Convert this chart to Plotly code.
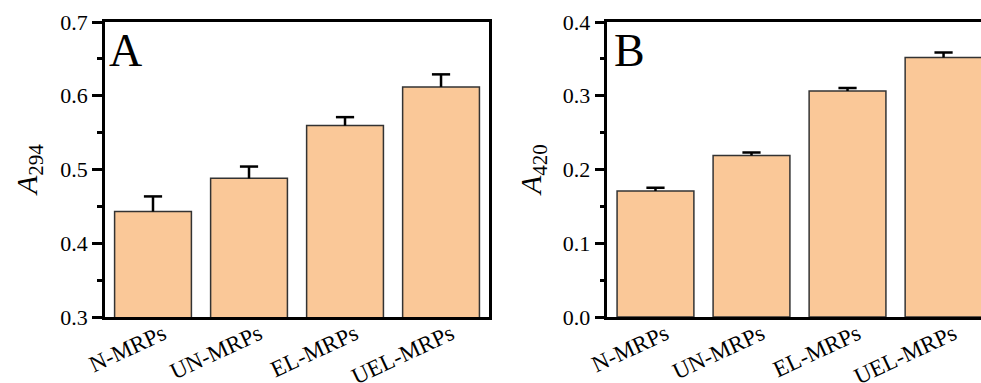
import plotly.graph_objects as go

categories = ["N-MRPs", "UN-MRPs", "EL-MRPs", "UEL-MRPs"]
a294_values = [0.443, 0.488, 0.5595, 0.612]
a294_errors = [0.0205, 0.016, 0.0115, 0.017]
a420_values = [0.1707, 0.219, 0.3065, 0.352]
a420_errors = [0.0046, 0.004, 0.004, 0.0068]
a294_ticks = [0.3, 0.4, 0.5, 0.6, 0.7]
a420_ticks = [0.0, 0.1, 0.2, 0.3, 0.4]

BAR = "#FAC898"
FONT = "Liberation Serif, Times New Roman, serif"

fig = go.Figure()
for vals, errs, xa, ya in [(a294_values, a294_errors, "x", "y"),
                           (a420_values, a420_errors, "x2", "y2")]:
    fig.add_trace(go.Bar(
        x=categories, y=vals, xaxis=xa, yaxis=ya, width=0.8,
        marker=dict(color=BAR, line=dict(color="#333333", width=1.5)),
        error_y=dict(type="data", array=errs, symmetric=False,
                     arrayminus=[0] * len(errs), color="black",
                     thickness=2.5, width=0),
        showlegend=False))
    fig.add_trace(go.Scatter(
        x=categories, y=[v + e for v, e in zip(vals, errs)],
        xaxis=xa, yaxis=ya, mode="markers",
        marker=dict(symbol="line-ew", size=13,
                    line=dict(color="black", width=2.5)),
        showlegend=False, hoverinfo="skip"))

axis_common = dict(showline=True, linecolor="black", linewidth=2.5,
                   showgrid=False, zeroline=False, automargin=False)

xcat = dict(ticks="", tickangle=-25, ticklabelstandoff=-8, ticklabelshift=10,
            tickfont=dict(family=FONT, size=23, color="black"))
yfont = dict(family=FONT, size=22, color="black")
yticks = dict(ticks="outside", ticklen=10, tickwidth=2.5, tickcolor="black",
              tickfont=yfont,
              minor=dict(dtick=0.05, ticks="outside", ticklen=5, tickwidth=2.5,
                         tickcolor="black", showgrid=False))

fig.update_layout(
    width=981, height=383,
    font=dict(family=FONT, size=22, color="black"),
    margin=dict(l=105, r=0, t=22, b=66),
    plot_bgcolor="white", paper_bgcolor="white",
    bargap=0.2,
    xaxis=dict(domain=[0, 0.4384], range=[-0.5, 3.5], mirror=True,
               anchor="y", **xcat, **axis_common),
    yaxis=dict(range=[0.3, 0.7], tickvals=a294_ticks,
               ticktext=[f"{v:.1f}" for v in a294_ticks],
               mirror=True, anchor="x", **yticks, **axis_common),
    xaxis2=dict(domain=[0.5736, 1], range=[-0.5, 3.39], mirror=True,
                anchor="y2", **xcat, **axis_common),
    yaxis2=dict(range=[0.0, 0.4], tickvals=a420_ticks,
                ticktext=[f"{v:.1f}" for v in a420_ticks],
                mirror=False, anchor="x2", **yticks, **axis_common),
)

for ref, label, shift in [("x", "A", 2), ("x2", "B", 5)]:
    fig.add_annotation(text=label, xref=f"{ref} domain",
                       yref=f"{'y' if ref == 'x' else 'y2'} domain",
                       x=0, y=0.902, xanchor="left", yanchor="middle",
                       xshift=shift, showarrow=False,
                       font=dict(family=FONT, size=46, color="black"))

for title, xp in [("<i>A</i><sub>294</sub>", -0.0868),
                  ("<i>A</i><sub>420</sub>", 0.4886)]:
    fig.add_annotation(text=title, xref="paper", yref="paper",
                       x=xp, y=0.498, xanchor="center", yanchor="middle",
                       textangle=-90, showarrow=False,
                       font=dict(family=FONT, size=30, color="black"))

fig.write_html("out.html")
